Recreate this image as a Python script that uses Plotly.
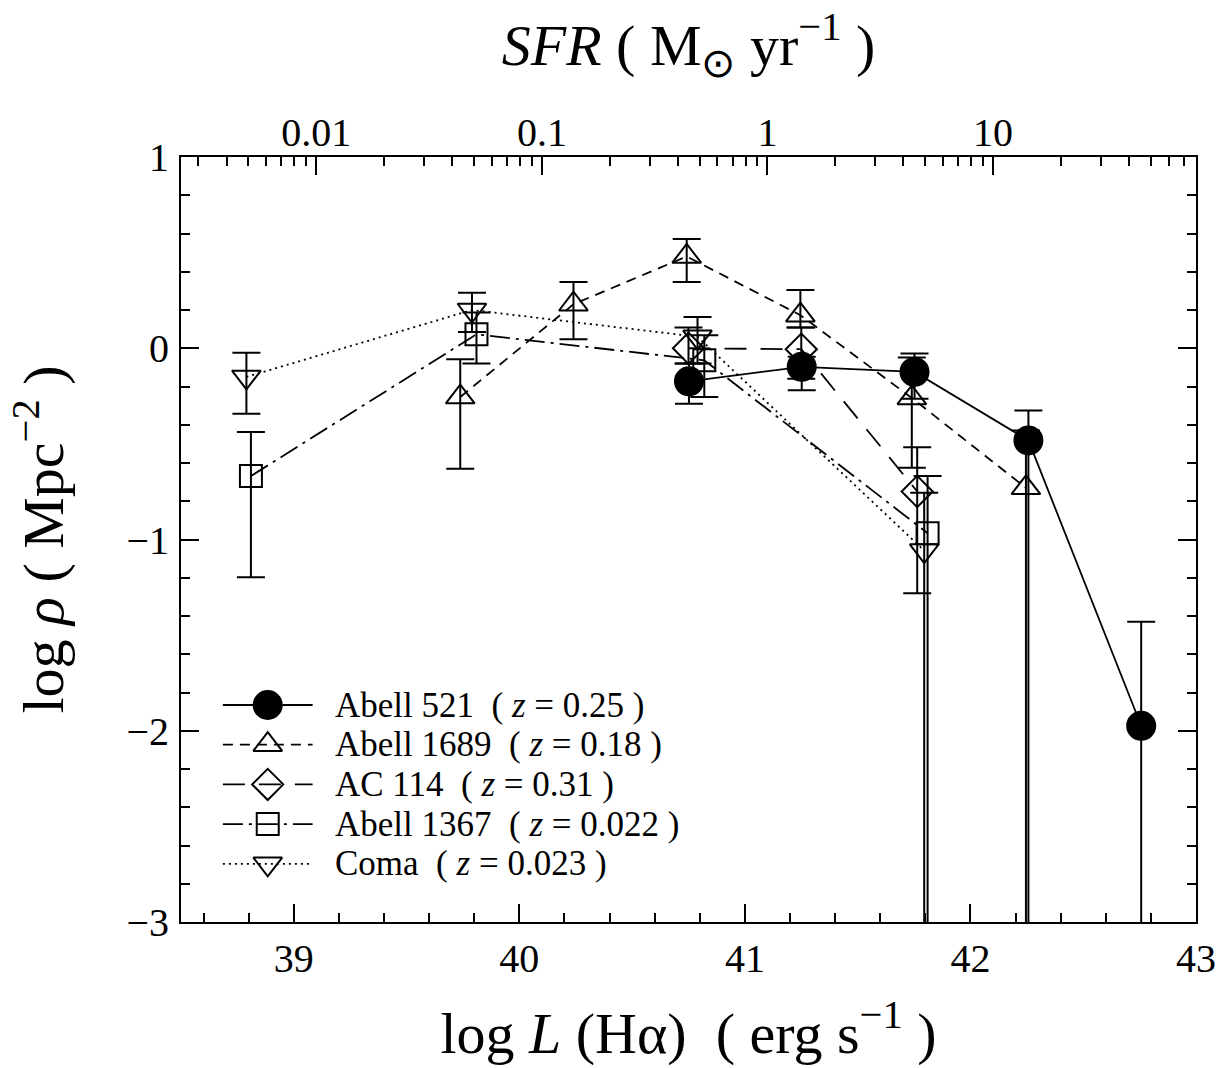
import math
import plotly.graph_objects as go

# ---------------- data ----------------
# log L(Halpha) bins and log rho values; upper/lower error-bar ends (None = unbounded below)
a521_x = [40.752, 41.252, 41.752, 42.257, 42.757]
a521_y = [-0.173, -0.097, -0.124, -0.482, -1.974]
a521_hi = [-0.08, -0.045, -0.028, -0.325, -1.43]
a521_lo = [-0.29, -0.22, -0.264, None, None]

a1689_x = [39.738, 40.24, 40.742, 41.246, 41.74, 42.246]
a1689_y = [-0.255, 0.23, 0.48, 0.173, -0.26, -0.73]
a1689_hi = [-0.058, 0.347, 0.571, 0.304, -0.049, -0.43]
a1689_lo = [-0.63, 0.047, 0.347, 0.108, -0.625, None]

ac114_x = [40.75, 41.25, 41.764]
ac114_y = [0.0, -0.005, -0.749]
ac114_hi = [0.108, 0.108, -0.517]
ac114_lo = [-0.08, -0.159, -1.281]

a1367_x = [38.81, 39.81, 40.82, 41.81]
a1367_y = [-0.668, 0.073, -0.063, -0.967]
a1367_hi = [-0.438, 0.187, 0.068, -0.668]
a1367_lo = [-1.197, -0.08, -0.255, None]

coma_x = [38.79, 39.79, 40.79, 41.795]
coma_y = [-0.15, 0.2, 0.06, -1.058]
coma_hi = [-0.023, 0.29, 0.164, -0.756]
coma_lo = [-0.342, 0.085, -0.08, None]

series_names = ["Abell 521", "Abell 1689", "AC 114", "Abell 1367", "Coma"]
series_z = ["0.25", "0.18", "0.31", "0.022", "0.023"]

# axes
x_ticks = [39, 40, 41, 42, 43]
y_ticks = [-3, -2, -1, 0, 1]
sfr_ticks = [0.01, 0.1, 1, 10]
sfr_ticktext = ["0.01", "0.1", "1", "10"]
LOG_L_OF_SFR1 = 41.1   # log L(Halpha) corresponding to SFR = 1 Msun/yr

# ---------------- layout constants ----------------
W, H = 1228, 1068
ML, MR, MT, MB = 181, 29, 157, 146
X_RANGE = [38.5, 43.0]
Y_RANGE = [-3.0, 1.0]
FLOOR = -20.0
FONT = "Liberation Serif"


def errs(y, hi, lo):
    plus = [h - v for v, h in zip(y, hi)]
    minus = [v - (l if l is not None else FLOOR) for v, l in zip(y, lo)]
    return plus, minus


styles = [
    ("circle", 28, "solid"),
    ("triangle-up-open", 25, "10px,7px"),
    ("diamond-open", 24, "22px,14px"),
    ("square-open", 22, "20px,6px,3px,6px"),
    ("triangle-down-open", 25, "2px,4px"),
]
data = [
    (a521_x, a521_y, a521_hi, a521_lo),
    (a1689_x, a1689_y, a1689_hi, a1689_lo),
    (ac114_x, ac114_y, ac114_hi, ac114_lo),
    (a1367_x, a1367_y, a1367_hi, a1367_lo),
    (coma_x, coma_y, coma_hi, coma_lo),
]

fig = go.Figure()
for name, (xs, ys, hi, lo), (sym, size, dash) in zip(series_names, data, styles):
    plus, minus = errs(ys, hi, lo)
    fig.add_trace(go.Scatter(
        x=xs, y=ys, name=name, mode="lines+markers", showlegend=False,
        line=dict(color="black", width=1.8, dash=dash),
        marker=dict(symbol=sym, size=size, color="black", opacity=1,
                    line=dict(color="black", width=2)),
        error_y=dict(type="data", symmetric=False, array=plus, arrayminus=minus,
                     color="black", thickness=2, width=14),
    ))

# invisible trace on the top (SFR) axis so it is drawn
fig.add_trace(go.Scatter(x=[X_RANGE[0]], y=[FLOOR], xaxis="x2", mode="markers",
                         marker=dict(opacity=0), showlegend=False, hoverinfo="skip"))

# ---------------- hand-built legend on a pixel-coordinate overlay axis ----------------
LEG_X0, LEG_XM, LEG_X1, LEG_TX = 223, 268, 313, 333
LEG_Y0, LEG_DY = 705, 39.7
annotations = []
for i, (name, z, (sym, size, dash)) in enumerate(zip(series_names, series_z, styles)):
    yrow = LEG_Y0 + i * LEG_DY
    fig.add_trace(go.Scatter(
        x=[LEG_X0, LEG_X1], y=[yrow, yrow], xaxis="x3", yaxis="y3",
        mode="lines", showlegend=False, hoverinfo="skip",
        line=dict(color="black", width=1.8, dash=dash),
    ))
    fig.add_trace(go.Scatter(
        x=[LEG_XM], y=[yrow], xaxis="x3", yaxis="y3",
        mode="markers", showlegend=False, hoverinfo="skip",
        marker=dict(symbol=sym, size=size, color="black", opacity=1,
                    line=dict(color="black", width=2)),
    ))
    annotations.append(dict(
        x=LEG_TX, y=yrow, xref="x3", yref="y3", xanchor="left", yanchor="middle",
        showarrow=False,
        text=f"{name}\u00a0\u00a0(\u00a0<i>z</i>\u00a0=\u00a0{z}\u00a0)",
        font=dict(family=FONT, size=35, color="black"),
    ))

sfr_major_pos = [math.log10(s) + LOG_L_OF_SFR1 for s in sfr_ticks]
sfr_minor_pos = []
for e in range(-4, 3):
    for k in range(2, 10):
        p = math.log10(k * 10 ** e) + LOG_L_OF_SFR1
        if X_RANGE[0] <= p <= X_RANGE[1]:
            sfr_minor_pos.append(p)

axis_common = dict(
    showline=True, linecolor="black", linewidth=2,
    ticks="inside", ticklen=18, tickwidth=1.5, tickcolor="black",
    showgrid=False, zeroline=False,
    tickfont=dict(family=FONT, size=40, color="black"),
)
minor_common = dict(ticks="inside", ticklen=9, tickwidth=1.5, tickcolor="black",
                    showgrid=False)
TITLE_SIZE = 58

fig.update_layout(
    width=W, height=H,
    margin=dict(l=ML, r=MR, t=MT, b=MB),
    paper_bgcolor="white", plot_bgcolor="white",
    font=dict(family=FONT, color="black"),
    showlegend=False,
    annotations=annotations,
    xaxis=dict(
        range=X_RANGE, tickmode="array", tickvals=x_ticks,
        ticktext=[str(t) for t in x_ticks],
        minor=dict(tickmode="linear", tick0=39, dtick=0.2, **minor_common),
        title=dict(text="log <i>L</i> (H\u03b1)\u00a0\u00a0( erg s<sup>\u22121</sup> )",
                   font=dict(family=FONT, size=TITLE_SIZE, color="black"), standoff=32),
        **axis_common,
    ),
    xaxis2=dict(
        overlaying="x", side="top", range=X_RANGE,
        tickmode="array", tickvals=sfr_major_pos, ticktext=sfr_ticktext,
        minor=dict(tickmode="array", tickvals=sfr_minor_pos, **minor_common),
        title=dict(text="<i>SFR</i> ( M<sub>\u2299</sub> yr<sup>\u22121</sup> )",
                   font=dict(family=FONT, size=TITLE_SIZE, color="black"), standoff=26),
        ticklabelstandoff=-7,
        **axis_common,
    ),
    yaxis=dict(
        range=Y_RANGE, tickmode="array", tickvals=y_ticks,
        mirror="ticks",
        minor=dict(tickmode="linear", tick0=-3, dtick=0.2, **minor_common),
        title=dict(text="log <i>\u03c1</i> ( Mpc<sup>\u22122</sup> )",
                   font=dict(family=FONT, size=TITLE_SIZE, color="black"), standoff=44),
        ticklabelstandoff=2,
        **axis_common,
    ),
    xaxis3=dict(overlaying="x", range=[ML, W - MR], visible=False, anchor="y3"),
    yaxis3=dict(overlaying="y", range=[H - MB, MT], visible=False, anchor="x3"),
)

fig.write_html("out.html")
